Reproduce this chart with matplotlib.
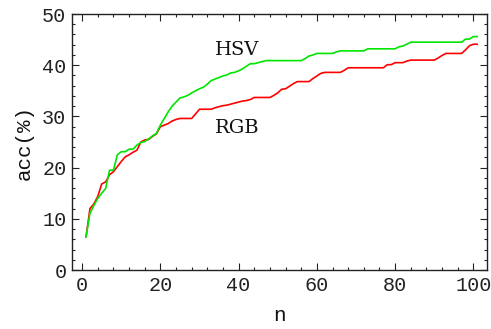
import matplotlib
matplotlib.use("Agg")
import matplotlib.pyplot as plt
from matplotlib.ticker import MultipleLocator

n = list(range(1, 102))

hsv = [6.5, 11.1, 12.6, 14.0, 15.0, 15.9, 19.5, 19.5, 22.5, 23.1,
       23.1, 23.6, 23.6, 24.4, 24.9, 25.1, 25.6, 26.2, 26.7, 28.3,
       29.6, 30.9, 32.0, 32.8, 33.6, 33.8, 34.1, 34.6, 35.0, 35.4,
       35.7, 36.3, 37.0, 37.3, 37.6, 37.9, 38.1, 38.5, 38.6, 38.9,
       39.3, 39.8, 40.3, 40.3, 40.5, 40.7, 40.9, 40.9, 40.9, 40.9,
       40.9, 40.9, 40.9, 40.9, 40.9, 40.9, 41.3, 41.8, 42.0, 42.3,
       42.3, 42.3, 42.3, 42.3, 42.6, 42.8, 42.8, 42.8, 42.8, 42.8,
       42.8, 42.8, 43.2, 43.2, 43.2, 43.2, 43.2, 43.2, 43.2, 43.2,
       43.6, 43.75, 44.1, 44.5, 44.5, 44.5, 44.5, 44.5, 44.5, 44.5,
       44.5, 44.5, 44.5, 44.5, 44.5, 44.5, 44.5, 45.1, 45.1, 45.6,
       45.6]

rgb = [6.5, 12.0, 12.9, 14.4, 16.8, 17.2, 18.6, 19.2, 20.2, 21.2,
       22.1, 22.5, 23.0, 23.4, 25.0, 25.4, 25.5, 26.1, 26.6, 28.0,
       28.3, 28.6, 29.1, 29.4, 29.6, 29.6, 29.6, 29.6, 30.5, 31.4,
       31.4, 31.4, 31.4, 31.7, 31.9, 32.1, 32.2, 32.4, 32.6, 32.8,
       33.0, 33.1, 33.3, 33.7, 33.7, 33.7, 33.7, 33.7, 34.1, 34.6,
       35.3, 35.4, 35.9, 36.4, 36.8, 36.8, 36.8, 36.8, 37.4, 37.9,
       38.4, 38.6, 38.6, 38.6, 38.6, 38.6, 39.0, 39.5, 39.5, 39.5,
       39.5, 39.5, 39.5, 39.5, 39.5, 39.5, 39.5, 40.1, 40.1, 40.5,
       40.5, 40.5, 40.8, 41.0, 41.0, 41.0, 41.0, 41.0, 41.0, 41.0,
       41.4, 41.9, 42.3, 42.3, 42.3, 42.3, 42.3, 43.0, 43.8, 44.1,
       44.1]

font = "Liberation Mono"
serif = "DejaVu Serif"

fig = plt.figure(figsize=(4.91, 3.29), dpi=100)
ax = fig.add_axes([0.1466, 0.1793, 0.9919 - 0.1466, 0.9574 - 0.1793])

ax.plot(n, rgb, color="#ff0000", lw=1.2)
ax.plot(n, hsv, color="#00e600", lw=1.2)

ax.text(39.7, 42.9, "HSV", family=serif, fontsize=14, ha="center", va="center", color="#111111")
ax.text(39.7, 27.7, "RGB", family=serif, fontsize=14, ha="center", va="center", color="#111111")

ax.set_xlim(-2.6, 103.5)
ax.set_ylim(0, 50)
ax.xaxis.set_major_locator(MultipleLocator(20))
ax.xaxis.set_minor_locator(MultipleLocator(4))
ax.yaxis.set_major_locator(MultipleLocator(10))
ax.yaxis.set_minor_locator(MultipleLocator(2))

ax.tick_params(which="both", direction="in", top=True, right=True,
               color="#222222", width=0.8)
ax.tick_params(which="major", length=5, labelsize=14.5, labelcolor="#222222", pad=4)
ax.tick_params(which="minor", length=2.5)
for lab in ax.get_xticklabels() + ax.get_yticklabels():
    lab.set_family(font)

for s in ax.spines.values():
    s.set_color("#222222")
    s.set_linewidth(1.0)

ax.set_xlabel("n", family=font, fontsize=15, color="#111111", labelpad=8)
ax.set_ylabel("acc(%)", family=font, fontsize=15, color="#111111", labelpad=6)

fig.savefig("out.png", dpi=100)
